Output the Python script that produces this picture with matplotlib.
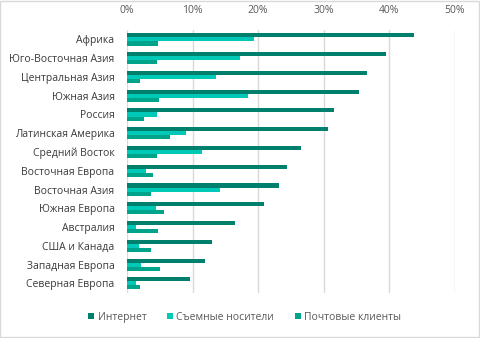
import matplotlib.pyplot as plt
import numpy as np
from matplotlib.ticker import PercentFormatter

regions = ['Африка', 'Юго-Восточная Азия', 'Центральная Азия', 'Южная Азия',
           'Россия', 'Латинская Америка', 'Средний Восток', 'Восточная Европа',
           'Восточная Азия', 'Южная Европа', 'Австралия', 'США и Канада',
           'Западная Европа', 'Северная Европа']

internet = [43.8, 39.5, 36.6, 35.4, 31.6, 30.7, 26.6, 24.4, 23.2, 20.9, 16.5, 13.0, 11.9, 9.6]
removable = [19.4, 17.2, 13.6, 18.4, 4.6, 9.0, 11.5, 2.9, 14.2, 4.4, 1.4, 1.9, 2.2, 1.3]
mail = [4.7, 4.6, 2.0, 4.9, 2.6, 6.5, 4.6, 4.0, 3.6, 5.6, 4.7, 3.6, 5.1, 2.0]

series_names = ['Интернет', 'Съемные носители', 'Почтовые клиенты']
colors = ['#00806c', '#00c9b8', '#00a48a']

plt.rcParams['font.family'] = ['Open Sans', 'DejaVu Sans']

fig = plt.figure(figsize=(4.8, 3.38), dpi=100)
ax = fig.add_axes([0.2646, 0.134, 0.6826, 0.777])

y = np.arange(len(regions))
h = 0.215
for k, vals in enumerate([internet, removable, mail]):
    ax.barh(y + (k - 1) * h, vals, height=h, color=colors[k],
            label=series_names[k], zorder=3)

ax.set_ylim(len(regions) - 0.5, -0.5)
ax.set_xlim(0, 50)
ax.set_xticks(range(0, 51, 10))
ax.xaxis.set_major_formatter(PercentFormatter(decimals=0))
ax.xaxis.tick_top()
ax.set_yticks(y)
ax.set_yticklabels(regions)
ax.tick_params(axis='x', length=0, pad=10, labelsize=7.5, labelcolor='#595959')
ax.tick_params(axis='y', length=0, pad=9, labelsize=7.5, labelcolor='#3a3a3a')
ax.grid(axis='x', color='#d9d9d9', linewidth=1, zorder=0)
for s in ax.spines.values():
    s.set_visible(False)

fig.legend(loc='center', bbox_to_anchor=(0.51, 0.062), ncol=3, frameon=False,
           fontsize=7.5, handlelength=0.6, handleheight=0.6, handletextpad=0.3,
           columnspacing=2.0, labelcolor='#595959')

# thin border around the chart area
fig.patches.append(plt.Rectangle((0.001, 0.002), 0.997, 0.995, transform=fig.transFigure,
                                 fill=False, edgecolor='#d9d9d9', linewidth=1))

fig.savefig('out.png', dpi=100)
